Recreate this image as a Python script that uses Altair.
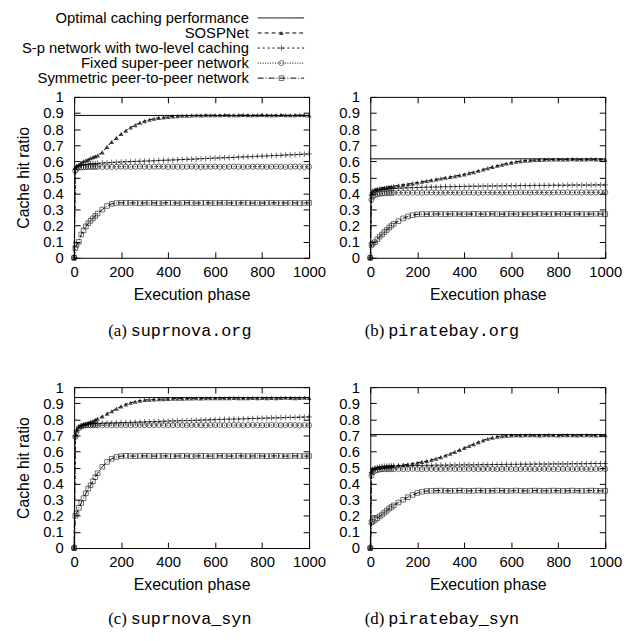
import altair as alt
import pandas as pd

# ---------------- data ----------------
X = [0, 5, 10, 20, 30, 40, 50, 60, 70, 80, 90, 100] + list(range(120, 1001, 20))

OPTIMAL = "Optimal caching performance"
SERIES = ["SOSPNet", "S-p network with two-level caching",
          "Fixed super-peer network", "Symmetric peer-to-peer network"]
ALL = [OPTIMAL] + SERIES

OPT = {"a": 0.885, "b": 0.615, "c": 0.935, "d": 0.705}

A_SOS = [0, 0.56, 0.57, 0.58, 0.59, 0.60, 0.605, 0.61, 0.62, 0.625, 0.63, 0.637,
         0.655, 0.69, 0.72, 0.745, 0.77,
         0.79, 0.81, 0.825, 0.84, 0.85,
         0.858, 0.865, 0.87, 0.873, 0.876,
         0.879, 0.881, 0.883, 0.884, 0.885,
         0.886, 0.885, 0.887, 0.886, 0.887,
         0.886, 0.888, 0.887, 0.886, 0.887,
         0.888, 0.887, 0.886, 0.887, 0.888,
         0.887, 0.886, 0.887, 0.888, 0.887,
         0.886, 0.887, 0.888, 0.886, 0.885]
A_SP = [0, 0.55, 0.565, 0.57, 0.575, 0.578, 0.58, 0.582, 0.584, 0.585, 0.586, 0.587,
        0.589, 0.591, 0.593, 0.594, 0.596,
        0.597, 0.598, 0.599, 0.600, 0.601,
        0.602, 0.603, 0.605, 0.606, 0.607,
        0.608, 0.609, 0.611, 0.612, 0.613,
        0.614, 0.616, 0.617, 0.618, 0.620,
        0.621, 0.622, 0.623, 0.624, 0.626,
        0.627, 0.628, 0.629, 0.631, 0.632,
        0.633, 0.635, 0.636, 0.637, 0.639,
        0.640, 0.641, 0.643, 0.644, 0.646]
A_FIX = [0, 0.54, 0.555, 0.56, 0.562, 0.563, 0.564, 0.565, 0.565, 0.566, 0.565, 0.566,
         0.565, 0.566, 0.565, 0.566, 0.567,
         0.566, 0.565, 0.566, 0.567, 0.566,
         0.565, 0.566, 0.567, 0.566, 0.565,
         0.566, 0.566, 0.565, 0.566, 0.567,
         0.566, 0.565, 0.566, 0.566, 0.567,
         0.566, 0.565, 0.566, 0.567, 0.566,
         0.565, 0.566, 0.566, 0.567, 0.566,
         0.565, 0.566, 0.567, 0.566, 0.565,
         0.566, 0.567, 0.566, 0.565, 0.566]
A_SYM = [0, 0.06, 0.08, 0.10, 0.145, 0.17, 0.195, 0.215, 0.23, 0.245, 0.26, 0.275,
         0.30, 0.322, 0.335, 0.34, 0.342,
         0.341, 0.342, 0.341, 0.340, 0.341,
         0.342, 0.341, 0.340, 0.341, 0.342,
         0.341, 0.340, 0.341, 0.342, 0.341,
         0.340, 0.341, 0.342, 0.341, 0.340,
         0.341, 0.342, 0.341, 0.340, 0.341,
         0.342, 0.341, 0.340, 0.341, 0.340,
         0.341, 0.342, 0.341, 0.340, 0.341,
         0.342, 0.341, 0.340, 0.341, 0.342]

B_SOS = [0, 0.40, 0.42, 0.425, 0.428, 0.431, 0.434, 0.436, 0.439, 0.441, 0.443, 0.445,
         0.450, 0.454, 0.458, 0.463, 0.468,
         0.473, 0.478, 0.483, 0.488, 0.493,
         0.498, 0.503, 0.508, 0.513, 0.519,
         0.526, 0.533, 0.541, 0.549, 0.557,
         0.565, 0.572, 0.579, 0.586, 0.592,
         0.597, 0.601, 0.604, 0.606, 0.608,
         0.609, 0.610, 0.611, 0.611, 0.612,
         0.611, 0.612, 0.613, 0.612, 0.611,
         0.612, 0.613, 0.612, 0.611, 0.610]
B_SP = [0, 0.39, 0.405, 0.412, 0.417, 0.42, 0.423, 0.425, 0.427, 0.428, 0.429, 0.430,
        0.432, 0.434, 0.435, 0.436, 0.437,
        0.438, 0.439, 0.440, 0.440, 0.441,
        0.442, 0.442, 0.443, 0.443, 0.444,
        0.444, 0.445, 0.445, 0.446, 0.446,
        0.447, 0.447, 0.447, 0.448, 0.448,
        0.448, 0.449, 0.449, 0.449, 0.450,
        0.450, 0.450, 0.450, 0.451, 0.451,
        0.451, 0.451, 0.452, 0.452, 0.452,
        0.452, 0.452, 0.453, 0.453, 0.453]
B_FIX = [0, 0.36, 0.38, 0.39, 0.395, 0.398, 0.40, 0.401, 0.402, 0.403, 0.403, 0.404,
         0.404, 0.405, 0.404, 0.405, 0.405,
         0.404, 0.405, 0.406, 0.405, 0.404,
         0.405, 0.406, 0.405, 0.404, 0.405,
         0.406, 0.405, 0.404, 0.405, 0.406,
         0.405, 0.406, 0.405, 0.406, 0.405,
         0.406, 0.407, 0.406, 0.405, 0.406,
         0.407, 0.406, 0.405, 0.406, 0.407,
         0.406, 0.407, 0.406, 0.407, 0.406,
         0.407, 0.406, 0.407, 0.408, 0.407]
B_SYM = [0, 0.08, 0.088, 0.097, 0.115, 0.132, 0.145, 0.16, 0.173, 0.188, 0.20, 0.212,
         0.228, 0.245, 0.257, 0.265, 0.270,
         0.272, 0.271, 0.272, 0.273, 0.272,
         0.271, 0.272, 0.273, 0.272, 0.271,
         0.272, 0.273, 0.272, 0.271, 0.272,
         0.273, 0.272, 0.271, 0.272, 0.273,
         0.272, 0.271, 0.272, 0.271, 0.272,
         0.273, 0.272, 0.271, 0.272, 0.273,
         0.272, 0.271, 0.272, 0.273, 0.272,
         0.271, 0.272, 0.273, 0.272, 0.271]

C_SOS = [0, 0.70, 0.73, 0.755, 0.762, 0.768, 0.773, 0.778, 0.784, 0.790, 0.797, 0.804,
         0.818, 0.835, 0.850, 0.866, 0.880,
         0.893, 0.903, 0.910, 0.916, 0.920,
         0.922, 0.924, 0.925, 0.926, 0.927,
         0.928, 0.929, 0.929, 0.930, 0.930,
         0.931, 0.930, 0.931, 0.932, 0.931,
         0.932, 0.931, 0.932, 0.933, 0.932,
         0.931, 0.932, 0.933, 0.932, 0.933,
         0.932, 0.933, 0.932, 0.933, 0.934,
         0.933, 0.932, 0.933, 0.934, 0.933]
C_SP = [0, 0.70, 0.73, 0.75, 0.758, 0.763, 0.767, 0.769, 0.771, 0.772, 0.773, 0.774,
        0.775, 0.776, 0.777, 0.778, 0.779,
        0.780, 0.781, 0.782, 0.783, 0.784,
        0.785, 0.786, 0.787, 0.788, 0.789,
        0.790, 0.791, 0.792, 0.792, 0.793,
        0.794, 0.795, 0.796, 0.797, 0.798,
        0.799, 0.800, 0.801, 0.801, 0.802,
        0.803, 0.804, 0.805, 0.806, 0.807,
        0.808, 0.809, 0.809, 0.810, 0.811,
        0.812, 0.812, 0.813, 0.814, 0.815]
C_FIX = [0, 0.69, 0.72, 0.745, 0.755, 0.76, 0.762, 0.763, 0.763, 0.764, 0.763, 0.764,
         0.763, 0.764, 0.763, 0.764, 0.765,
         0.764, 0.763, 0.764, 0.765, 0.764,
         0.763, 0.764, 0.765, 0.764, 0.763,
         0.764, 0.765, 0.764, 0.763, 0.764,
         0.765, 0.764, 0.763, 0.764, 0.765,
         0.764, 0.763, 0.764, 0.765, 0.764,
         0.763, 0.764, 0.765, 0.764, 0.763,
         0.764, 0.765, 0.764, 0.763, 0.764,
         0.765, 0.764, 0.763, 0.764, 0.763]
C_SYM = [0, 0.20, 0.215, 0.25, 0.28, 0.31, 0.34, 0.37, 0.39, 0.415, 0.44, 0.465,
         0.505, 0.535, 0.555, 0.566, 0.571,
         0.573, 0.572, 0.571, 0.572, 0.573,
         0.572, 0.571, 0.572, 0.573, 0.572,
         0.571, 0.572, 0.573, 0.572, 0.571,
         0.572, 0.573, 0.572, 0.571, 0.572,
         0.573, 0.572, 0.571, 0.572, 0.573,
         0.572, 0.571, 0.572, 0.573, 0.572,
         0.571, 0.572, 0.573, 0.572, 0.571,
         0.572, 0.573, 0.572, 0.571, 0.572]

D_SOS = [0, 0.47, 0.49, 0.497, 0.50, 0.502, 0.504, 0.505, 0.507, 0.508, 0.509, 0.510,
         0.513, 0.516, 0.520, 0.525, 0.530,
         0.535, 0.541, 0.548, 0.556, 0.565,
         0.575, 0.586, 0.598, 0.610, 0.622,
         0.634, 0.646, 0.658, 0.669, 0.679,
         0.686, 0.692, 0.696, 0.698, 0.700,
         0.701, 0.700, 0.701, 0.702, 0.701,
         0.700, 0.701, 0.702, 0.701, 0.700,
         0.701, 0.702, 0.701, 0.700, 0.701,
         0.702, 0.701, 0.700, 0.701, 0.702]
D_SP = [0, 0.47, 0.49, 0.498, 0.502, 0.505, 0.507, 0.508, 0.509, 0.510, 0.510, 0.511,
        0.511, 0.512, 0.512, 0.513, 0.513,
        0.513, 0.514, 0.514, 0.515, 0.515,
        0.515, 0.516, 0.516, 0.516, 0.517,
        0.517, 0.517, 0.518, 0.518, 0.518,
        0.519, 0.519, 0.519, 0.520, 0.520,
        0.520, 0.521, 0.521, 0.521, 0.522,
        0.522, 0.522, 0.522, 0.523, 0.523,
        0.523, 0.523, 0.524, 0.524, 0.524,
        0.524, 0.525, 0.525, 0.525, 0.525]
D_FIX = [0, 0.45, 0.47, 0.48, 0.485, 0.488, 0.49, 0.49, 0.491, 0.49, 0.491, 0.49,
         0.491, 0.49, 0.491, 0.492, 0.491,
         0.49, 0.491, 0.492, 0.491, 0.49,
         0.491, 0.492, 0.491, 0.49, 0.491,
         0.492, 0.491, 0.49, 0.491, 0.492,
         0.491, 0.49, 0.491, 0.492, 0.491,
         0.49, 0.491, 0.492, 0.491, 0.49,
         0.491, 0.492, 0.491, 0.49, 0.491,
         0.492, 0.491, 0.49, 0.491, 0.492,
         0.491, 0.49, 0.491, 0.492, 0.491]
D_SYM = [0, 0.16, 0.165, 0.175, 0.185, 0.197, 0.208, 0.22, 0.232, 0.245, 0.255, 0.265,
         0.283, 0.30, 0.316, 0.33, 0.342,
         0.35, 0.354, 0.356, 0.356, 0.357,
         0.356, 0.355, 0.356, 0.357, 0.356,
         0.355, 0.356, 0.357, 0.356, 0.355,
         0.356, 0.357, 0.356, 0.355, 0.356,
         0.357, 0.356, 0.355, 0.356, 0.357,
         0.356, 0.355, 0.356, 0.357, 0.356,
         0.355, 0.356, 0.357, 0.356, 0.355,
         0.356, 0.357, 0.356, 0.355, 0.356]

PANEL_DATA = {
    "a": [A_SOS, A_SP, A_FIX, A_SYM],
    "b": [B_SOS, B_SP, B_FIX, B_SYM],
    "c": [C_SOS, C_SP, C_FIX, C_SYM],
    "d": [D_SOS, D_SP, D_FIX, D_SYM],
}
CAPTIONS = {"a": ("(a)", "suprnova.org"), "b": ("(b)", "piratebay.org"),
            "c": ("(c)", "suprnova_syn"), "d": ("(d)", "piratebay_syn")}

XTICKS = [0, 200, 400, 600, 800, 1000]
YTICKS = [0, 0.1, 0.2, 0.3, 0.4, 0.5, 0.6, 0.7, 0.8, 0.9, 1]

# ---------------- style ----------------
W, H = 238, 163
TICK = 6
SANS = "Liberation Sans"
FS = 15
CROSS = "M-1,0L1,0M0,-1L0,1"
DASH_RANGE = [[1, 0], [4, 3], [2, 3], [1, 1.5], [6, 2, 1, 2]]
dash_scale = alt.Scale(domain=ALL, range=DASH_RANGE)
shape_scale = alt.Scale(domain=SERIES[1:], range=[CROSS, "circle", "square"])
size_scale = alt.Scale(domain=SERIES[1:], range=[32, 22, 26])
xs = alt.Scale(domain=[0, 1000], nice=False)
ys = alt.Scale(domain=[0, 1], nice=False)
leg_scale = alt.Scale(domain=[0, 4], range=[-80, -19], nice=False, zero=False)


def panel(key, ytitle, legend=False):
    rows = []
    for name, vals in zip(SERIES, PANEL_DATA[key]):
        for xv, yv in zip(X, vals):
            rows.append({"x": xv, "value": yv, "series": name})
    df = pd.DataFrame(rows)
    base = alt.Chart(df)

    bottom = alt.Axis(orient="bottom", values=XTICKS, format="d", title="Execution phase",
                      offset=-TICK, tickSize=TICK, labelPadding=7, titlePadding=7,
                      titleFontSize=16,
                      domain=False, grid=False, labelFlush=False, labelOverlap=False)
    left = alt.Axis(orient="left", values=YTICKS, format="~g", title=ytitle,
                    offset=-TICK, tickSize=TICK, labelPadding=11, titlePadding=11,
                    titleFontSize=16,
                    domain=False, grid=False, labelOverlap=False)
    top = alt.Axis(orient="top", values=XTICKS, labels=False, title=None,
                   offset=-TICK, tickSize=TICK, domain=False, grid=False)
    right = alt.Axis(orient="right", values=YTICKS, labels=False, title=None,
                     offset=-TICK, tickSize=TICK, domain=False, grid=False)

    lines = base.mark_line(color="black", strokeWidth=1).encode(
        x=alt.X("x:Q", scale=xs, axis=bottom),
        y=alt.Y("value:Q", scale=ys, axis=left),
        strokeDash=alt.StrokeDash("series:N", scale=dash_scale, legend=None),
        detail="series:N",
    )
    pts_f = base.transform_filter(alt.datum.series == SERIES[0]).mark_point(
        shape="triangle-up", filled=True, color="black", size=24
    ).encode(
        x=alt.X("x:Q", scale=xs, axis=top),
        y=alt.Y("value:Q", scale=ys, axis=None),
    )
    pts_o = base.transform_filter(alt.datum.series != SERIES[0]).mark_point(
        filled=False, color="black", strokeWidth=0.8
    ).encode(
        x=alt.X("x:Q", scale=xs, axis=None),
        y=alt.Y("value:Q", scale=ys, axis=right),
        shape=alt.Shape("series:N", scale=shape_scale, legend=None),
        size=alt.Size("series:O", scale=size_scale, legend=None),
    )
    opt_df = pd.DataFrame({"value": [OPT[key]], "series": [OPTIMAL]})
    opt = alt.Chart(opt_df).mark_rule(color="black", strokeWidth=1).encode(
        y=alt.Y("value:Q", scale=ys, axis=None)
    )
    tag, name = CAPTIONS[key]
    cap_df = pd.DataFrame({"tag": [tag], "name": [name]})
    center = 107 if key in ("a", "c") else 73
    mono_w = len(name) * 0.6 * 17
    total = 19 + 4 + mono_w
    start = center - total / 2
    cap_y = 237 if key in ("a", "b") else 235
    cap_tag = alt.Chart(cap_df).mark_text(
        align="right", baseline="middle", font="Liberation Serif", fontSize=17, color="black"
    ).encode(x=alt.value(start + 19), y=alt.value(cap_y), text="tag:N")
    cap_name = alt.Chart(cap_df).mark_text(
        align="left", baseline="middle", font="Liberation Mono", fontSize=17, color="black"
    ).encode(x=alt.value(start + 23), y=alt.value(cap_y), text="name:N")

    inner = alt.layer(opt, lines, pts_o, pts_f, cap_tag, cap_name).resolve_axis(
        x="independent", y="independent")
    if not legend:
        return inner.properties(width=W, height=H)

    leg_df = pd.DataFrame({"row": list(range(len(ALL))), "series": ALL})
    lb = alt.Chart(leg_df)
    ly = alt.Y("row:Q", scale=leg_scale, axis=None)
    leg_text = lb.mark_text(align="right", baseline="middle", font=SANS, fontSize=15,
                            color="black").encode(x=alt.value(177), y=ly, text="series:N")
    leg_rule = lb.mark_rule(color="black", strokeWidth=1).encode(
        x=alt.value(186), x2=alt.value(233), y=ly,
        strokeDash=alt.StrokeDash("series:N", scale=dash_scale, legend=None))
    leg_pf = lb.transform_filter(alt.datum.series == SERIES[0]).mark_point(
        shape="triangle-up", filled=True, color="black", size=24
    ).encode(x=alt.value(210), y=ly)
    leg_po = lb.transform_filter(
        alt.FieldOneOfPredicate(field="series", oneOf=SERIES[1:])
    ).mark_point(filled=False, color="black", strokeWidth=0.8).encode(
        x=alt.value(210), y=ly,
        shape=alt.Shape("series:N", scale=shape_scale, legend=None),
        size=alt.Size("series:O", scale=size_scale, legend=None),
    )
    return alt.layer(inner, leg_rule, leg_po, leg_pf, leg_text).resolve_scale(
        y="independent").properties(width=W, height=H)


pa = panel("a", "Cache hit ratio", legend=True)
pb = panel("b", None)
pc = panel("c", "Cache hit ratio")
pd_ = panel("d", None)

chart = alt.concat(
    pa, pb, pc, pd_, columns=2, spacing={"row": 131, "column": 62}, bounds="flush"
).configure_view(
    stroke="black", strokeWidth=1
).configure_axis(
    labelFont=SANS, labelFontSize=FS, labelColor="black",
    titleFont=SANS, titleFontSize=FS, titleFontWeight="normal", titleColor="black",
    tickColor="black", tickWidth=1,
).properties(
    padding={"left": 7, "top": -2, "right": 0, "bottom": 0},
    background="white",
)

chart.save("out.html", embed_options={"renderer": "svg", "actions": False})
